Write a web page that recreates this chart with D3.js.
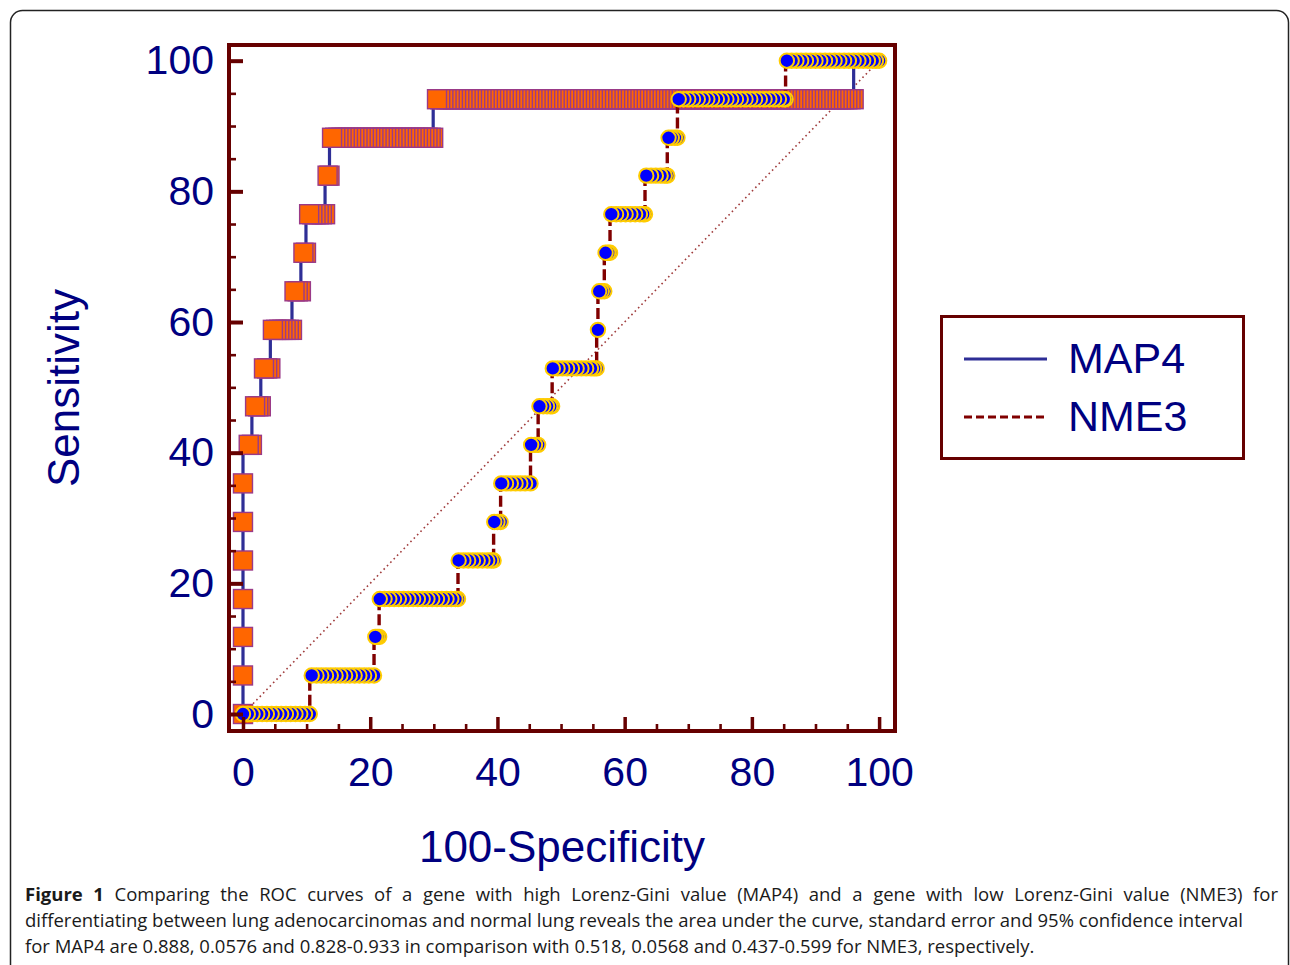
<!DOCTYPE html>
<html lang="en">
<head>
<meta charset="UTF-8">
<title>ROC curves: MAP4 vs NME3</title>
<script src="https://d3js.org/d3.v7.min.js"></script>
<style>
  body { margin: 0; background: #fff; }
  svg { display: block; }
  .tick text { font-family: "Liberation Sans", Arial, sans-serif; fill: #000080; }
  .caption { font-family: "Open Sans", sans-serif; font-size: 18.5px; fill: #1a1a1a; }
</style>
</head>
<body>
<svg id="chart" width="1290" height="965"></svg>
<script>
// sensitivity levels of the ROC steps (one per positive case)
const sensLevels = [0, 5.9, 11.8, 17.6, 23.5, 29.4, 35.3, 41.2, 47.1, 52.9, 58.8, 64.7, 70.6, 76.5, 82.4, 88.2, 94.1, 100];

// MAP4: 100-specificity values of the points on each sensitivity level
const map4X = [
  [0], [0], [0], [0], [0], [0], [0],
  [0.9, 1.4],
  [1.9, 2.4, 2.8],
  [3.3, 3.8, 4.3],
  [4.7, 5.2, 5.7, 6.2, 6.7, 7.2, 7.7],
  [8.1, 8.6, 9.1],
  [9.5, 9.9],
  [10.4, 10.9, 11.4, 11.9, 12.4, 12.9],
  [13.3, 13.6],
  [14, 14.5, 15, 15.5, 16, 16.5, 17, 17.5, 18, 18.5, 19, 19.5, 20, 20.5, 21, 21.5, 22, 22.5, 23, 23.5,
   24, 24.5, 25, 25.5, 26, 26.5, 27, 27.5, 28, 28.5, 29, 29.5, 29.9],
  [30.5, 31, 31.5, 32, 32.5, 33, 33.5, 34, 34.5, 35, 35.5, 36, 36.5, 37, 37.5, 38, 38.5, 39, 39.5, 40,
   40.5, 41, 41.5, 42, 42.5, 43, 43.5, 44, 44.5, 45, 45.5, 46, 46.5, 47, 47.5, 48, 48.5, 49, 49.5, 50,
   50.5, 51, 51.5, 52, 52.5, 53, 53.5, 54, 54.5, 55, 55.5, 56, 56.5, 57, 57.5, 58, 58.5, 59, 59.5, 60,
   60.5, 61, 61.5, 62, 62.5, 63, 63.5, 64, 64.5, 65, 65.5, 66, 66.5, 67, 67.5, 68, 68.5, 69, 69.5, 70,
   70.5, 71, 71.5, 72, 72.5, 73, 73.5, 74, 74.5, 75, 75.5, 76, 76.5, 77, 77.5, 78, 78.5, 79, 79.5, 80,
   80.5, 81, 81.5, 82, 82.5, 83, 83.5, 84, 84.5, 85, 85.5, 86, 86.5, 87, 87.5, 88, 88.5, 89, 89.5, 90,
   90.5, 91, 91.5, 92, 92.5, 93, 93.5, 94, 94.5, 95, 95.5, 96],
  []
];
// MAP4 last step (line only, no marker drawn)
const map4Tail = [[96.1, 100], [100, 100]];

// NME3: 100-specificity values of the points on each sensitivity level
const nme3X = [
  [0, 0.75, 1.5, 2.25, 3.0, 3.75, 4.5, 5.25, 6.0, 6.75, 7.5, 8.25, 9.0, 9.75, 10.5],
  [10.8, 11.55, 12.3, 13.05, 13.8, 14.55, 15.3, 16.05, 16.8, 17.55, 18.3, 19.05, 19.8, 20.6],
  [20.8, 21.1, 21.4],
  [21.5, 22.25, 23.0, 23.75, 24.5, 25.25, 26.0, 26.75, 27.5, 28.25, 29.0, 29.75, 30.5, 31.25, 32.0, 32.75, 33.4, 33.8],
  [33.9, 34.65, 35.4, 36.15, 36.9, 37.65, 38.4, 39.0, 39.4],
  [39.5, 40.0, 40.5],
  [40.6, 41.35, 42.1, 42.85, 43.6, 44.35, 45.2],
  [45.3, 45.9, 46.4],
  [46.6, 47.2, 47.8, 48.3, 48.6],
  [48.7, 49.45, 50.2, 50.95, 51.7, 52.45, 53.2, 53.95, 54.7, 55.2, 55.6],
  [55.8],
  [56.0, 56.4, 56.8],
  [57.0, 57.4, 57.7],
  [57.9, 58.65, 59.4, 60.15, 60.9, 61.65, 62.4, 62.9, 63.2],
  [63.4, 64.15, 64.9, 65.65, 66.3, 66.7],
  [66.9, 67.4, 67.9, 68.3],
  [68.5, 69.25, 70.0, 70.75, 71.5, 72.25, 73.0, 73.75, 74.5, 75.25, 76.0, 76.75, 77.5, 78.25, 79.0,
   79.75, 80.5, 81.25, 82.0, 82.75, 83.5, 84.25, 85.0, 85.3],
  [85.5, 86.25, 87.0, 87.75, 88.5, 89.25, 90.0, 90.75, 91.5, 92.25, 93.0, 93.75, 94.5, 95.25, 96.0,
   96.75, 97.5, 98.25, 99.0, 99.5, 100]
];

const majorTicks = [0, 20, 40, 60, 80, 100];
const minorTicks = [5, 10, 15, 25, 30, 35, 45, 50, 55, 65, 70, 75, 85, 90, 95];
const legendLabels = ["MAP4", "NME3"];

const captionBold = "Figure 1";
const captionLines = [
  " Comparing the ROC curves of a gene with high Lorenz-Gini value (MAP4) and a gene with low Lorenz-Gini value (NME3) for",
  "differentiating between lung adenocarcinomas and normal lung reveals the area under the curve, standard error and 95% confidence interval",
  "for MAP4 are 0.888, 0.0576 and 0.828-0.933 in comparison with 0.518, 0.0568 and 0.437-0.599 for NME3, respectively."
];

const frameColor = "#660000";
const labelColor = "#000080";

const svg = d3.select("#chart");

svg.append("rect").attr("width", 1290).attr("height", 965).attr("fill", "#fff");

// outer figure border
svg.append("rect")
  .attr("x", 10.5).attr("y", 10.5)
  .attr("width", 1278).attr("height", 1020)
  .attr("rx", 12)
  .attr("fill", "none").attr("stroke", "#222").attr("stroke-width", 1.5);

const x = d3.scaleLinear().domain([-2.2, 102.5]).range([229, 895]);
const y = d3.scaleLinear().domain([-2.6, 102.4]).range([731, 45]);

const toPoints = rows => rows.flatMap((xs, i) => xs.map(v => [v, sensLevels[i]]));
const map4Pts = toPoints(map4X);
const nme3Pts = toPoints(nme3X);

// reference diagonal
svg.append("line")
  .attr("x1", x(0)).attr("y1", y(0))
  .attr("x2", x(100)).attr("y2", y(100))
  .attr("stroke", "#a03c3c").attr("stroke-width", 1.6)
  .attr("stroke-dasharray", "1.6,3.2");

const line = d3.line()
  .x(d => x(d[0]))
  .y(d => y(d[1]))
  .curve(d3.curveStepBefore);

// MAP4 curve + square markers
svg.append("path")
  .datum(map4Pts.concat(map4Tail))
  .attr("fill", "none")
  .attr("stroke", "#2e2e96")
  .attr("stroke-width", 3.2)
  .attr("d", line);

svg.append("g").selectAll("rect")
  .data(map4Pts.slice().reverse())
  .join("rect")
  .attr("x", d => x(d[0]) - 9.5)
  .attr("y", d => y(d[1]) - 9.5)
  .attr("width", 19).attr("height", 19)
  .attr("fill", "#ff6600")
  .attr("stroke", "#9a3a88")
  .attr("stroke-width", 1.4);

// NME3 curve + circle markers
svg.append("path")
  .datum(nme3Pts)
  .attr("fill", "none")
  .attr("stroke", "#800000")
  .attr("stroke-width", 3.4)
  .attr("stroke-dasharray", "11,4")
  .attr("d", line);

svg.append("g").selectAll("circle")
  .data(nme3Pts.slice().reverse())
  .join("circle")
  .attr("cx", d => x(d[0]))
  .attr("cy", d => y(d[1]))
  .attr("r", 7.2)
  .attr("fill", "#0000ff")
  .attr("stroke", "#ffcc00")
  .attr("stroke-width", 2);

// axes: ticks point inwards
function styleAxis(g, width) {
  g.select(".domain").remove();
  g.selectAll(".tick line").attr("stroke", frameColor).attr("stroke-width", width);
  g.selectAll(".tick text").attr("font-size", 41).attr("fill", labelColor);
}

svg.append("g")
  .attr("transform", "translate(229,0)")
  .call(d3.axisLeft(y).tickValues(minorTicks).tickSize(-7).tickFormat(""))
  .call(g => styleAxis(g, 2.6));
svg.append("g")
  .attr("transform", "translate(229,0)")
  .call(d3.axisLeft(y).tickValues(majorTicks).tickSize(-14).tickPadding(15).tickFormat(d3.format("d")))
  .call(g => styleAxis(g, 4));

svg.append("g")
  .attr("transform", "translate(0,731)")
  .call(d3.axisBottom(x).tickValues(minorTicks).tickSize(-7).tickFormat(""))
  .call(g => styleAxis(g, 2.6));
svg.append("g")
  .attr("transform", "translate(0,731)")
  .call(d3.axisBottom(x).tickValues(majorTicks).tickSize(-14).tickPadding(26).tickFormat(d3.format("d")))
  .call(g => styleAxis(g, 3.5));

// plot frame
svg.append("rect")
  .attr("x", x.range()[0]).attr("y", y.range()[1])
  .attr("width", x.range()[1] - x.range()[0])
  .attr("height", y.range()[0] - y.range()[1])
  .attr("fill", "none")
  .attr("stroke", frameColor)
  .attr("stroke-width", 4);

// axis titles
svg.append("text")
  .attr("transform", "translate(79,388) rotate(-90)")
  .attr("text-anchor", "middle")
  .attr("font-family", "'Liberation Sans', Arial, sans-serif")
  .attr("font-size", 44)
  .attr("fill", labelColor)
  .text("Sensitivity");

svg.append("text")
  .attr("x", 562).attr("y", 862)
  .attr("text-anchor", "middle")
  .attr("font-family", "'Liberation Sans', Arial, sans-serif")
  .attr("font-size", 44)
  .attr("fill", labelColor)
  .text("100-Specificity");

// legend
const legend = svg.append("g");
legend.append("rect")
  .attr("x", 941.5).attr("y", 316.5)
  .attr("width", 302).attr("height", 142)
  .attr("fill", "#fff")
  .attr("stroke", frameColor).attr("stroke-width", 3);

legendLabels.forEach((lab, i) => {
  const ly = 359 + i * 58;
  legend.append("line")
    .attr("x1", 964).attr("x2", 1047)
    .attr("y1", ly).attr("y2", ly)
    .attr("stroke", i === 0 ? "#2e2e96" : "#800000")
    .attr("stroke-width", 3.2)
    .attr("stroke-dasharray", i === 0 ? null : "8,4");
  legend.append("text")
    .attr("x", 1068).attr("y", ly + 14)
    .attr("font-family", "'Liberation Sans', Arial, sans-serif")
    .attr("font-size", 43)
    .attr("fill", labelColor)
    .text(lab);
});

// caption
const cap = svg.append("g").attr("class", "caption");
const first = cap.append("text").attr("x", 25).attr("y", 901);
first.append("tspan").attr("font-weight", "bold").text(captionBold);
first.append("tspan").text(captionLines[0]);

// justify first line to the right margin
const natural = first.node().getComputedTextLength();
const gaps = (captionBold + captionLines[0]).split(" ").length - 1;
if (natural < 1253) first.attr("word-spacing", (1278 - 25 - natural) / gaps);

captionLines.slice(1).forEach((t, i) => {
  cap.append("text").attr("x", 25).attr("y", 927 + i * 26).text(t);
});
</script>
</body>
</html>
